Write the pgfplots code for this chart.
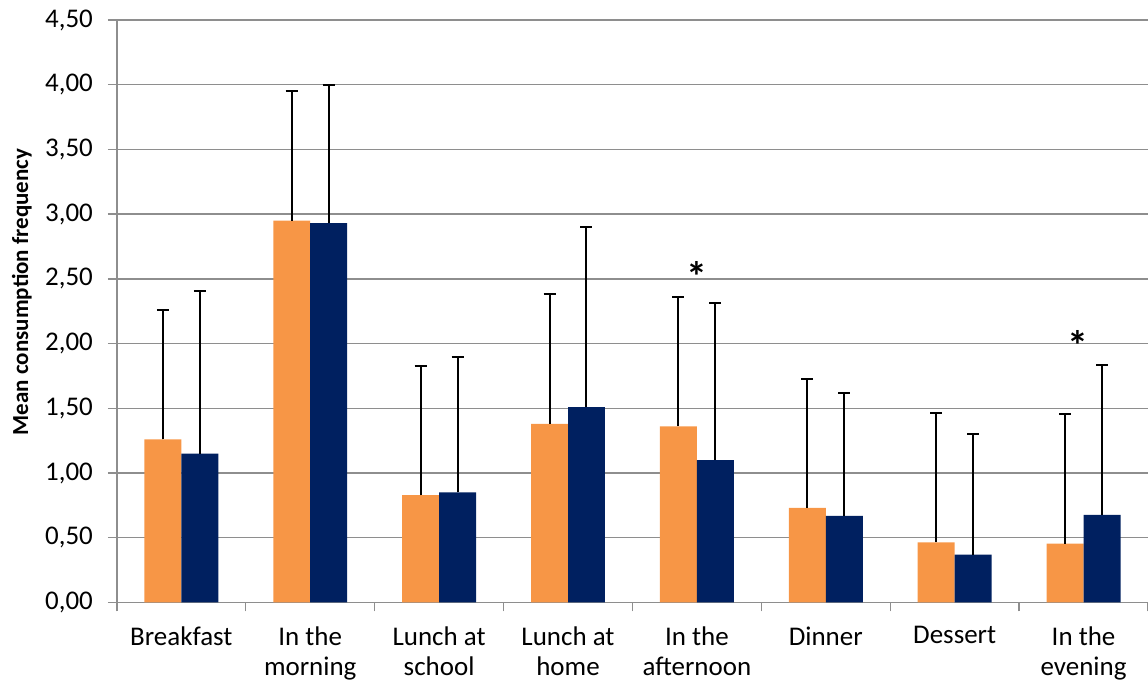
\documentclass[border=0pt]{standalone}
\usepackage{pgfplots}
\pgfplotsset{compat=1.18}
\usepackage{fontspec}
\setmainfont{Carlito}
\definecolor{orng}{HTML}{F79646}
\definecolor{navy}{HTML}{002060}
\definecolor{gridc}{HTML}{8E8E8E}
\begin{document}
\begin{tikzpicture}
\useasboundingbox (-58.5pt,-41.5pt) rectangle (516pt,301.5pt);
\begin{axis}[
  scale only axis, width=516pt, height=291.5pt,
  at={(0,0)}, anchor=south west,
  xmin=-0.5, xmax=7.5, ymin=0, ymax=4.5,
  ybar=0pt, bar width=18.5pt,
  axis lines=left,
  axis line style={gridc, line width=0.7pt, -},
  ytick={0,0.5,...,4.5},
  ymajorgrids, grid style={gridc, line width=0.7pt},
  tick align=outside,
  major tick length=4.5pt, minor tick length=4.5pt,
  tick style={gridc, line width=0.7pt},
  xtick={0,...,7},
  major x tick style={draw=none},
  minor xtick={-0.5,0.5,...,7.5},
  xticklabels={Breakfast, In the\\morning, Lunch at\\school, Lunch at\\home, In the\\afternoon, Dinner, Dessert, In the\\evening},
  xticklabel style={align=center, font=\fontsize{13.5}{15}\selectfont, text=black, yshift=-4pt},
  yticklabel style={font=\fontsize{13.5}{15}\selectfont, text=black, xshift=-4pt},
  /pgf/number format/.cd, fixed, fixed zerofill, precision=2, use comma, assume math mode=true,
  /pgfplots/.cd,
  ylabel={Mean consumption frequency},
  ylabel style={font=\fontsize{11.5}{13}\selectfont\bfseries, at={(axis description cs:-0.0921,0.533)}, anchor=center},
  clip=false,
]
\addplot[fill=orng, draw=none,
  error bars/.cd, y dir=plus, y explicit,
  error bar style={black, line width=1pt},
  error mark options={rotate=90, black, mark size=3pt, line width=1pt}]
  coordinates {
  (0,1.26) +- (0,1.00)
  (1,2.95) +- (0,1.00)
  (2,0.83) +- (0,1.00)
  (3,1.38) +- (0,1.00)
  (4,1.36) +- (0,1.00)
  (5,0.73) +- (0,1.00)
  (6,0.465) +- (0,1.00)
  (7,0.455) +- (0,1.00)
  };
\addplot[fill=navy, draw=none,
  error bars/.cd, y dir=plus, y explicit,
  error bar style={black, line width=1pt},
  error mark options={rotate=90, black, mark size=3pt, line width=1pt}]
  coordinates {
  (0,1.15) +- (0,1.26)
  (1,2.93) +- (0,1.07)
  (2,0.85) +- (0,1.05)
  (3,1.51) +- (0,1.39)
  (4,1.10) +- (0,1.21)
  (5,0.67) +- (0,0.95)
  (6,0.37) +- (0,0.93)
  (7,0.677) +- (0,1.16)
  };
\node[font=\fontsize{21}{21}\selectfont\bfseries, anchor=base, yshift=-12pt] at (axis cs:4,2.585) {*};
\node[font=\fontsize{21}{21}\selectfont\bfseries, anchor=base, yshift=-12pt] at (axis cs:6.953,2.055) {*};
\end{axis}
\end{tikzpicture}
\end{document}
